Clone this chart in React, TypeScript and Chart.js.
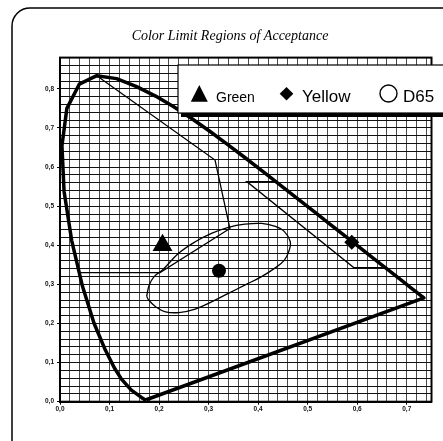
import React, { useEffect, useRef } from 'react';
import { Chart, registerables } from 'chart.js';

Chart.register(...registerables);

const TITLE = 'Color Limit Regions of Acceptance';

// CIE 1931 spectral locus (thick outline)
const locusX = [0.1741, 0.1714, 0.1644, 0.1440, 0.1241, 0.1096, 0.0913, 0.0687, 0.0454, 0.0235, 0.0082, 0.0039, 0.0139, 0.0389, 0.0743, 0.1142, 0.1547, 0.1929, 0.2296, 0.2658, 0.3016, 0.3373, 0.3731, 0.4087, 0.4441, 0.4788, 0.5125, 0.5448, 0.5752, 0.6029, 0.6270, 0.6482, 0.6658, 0.6915, 0.7079, 0.7190, 0.7260, 0.7347, 0.1741];
const locusY = [0.0050, 0.0051, 0.0109, 0.0297, 0.0578, 0.0868, 0.1327, 0.2007, 0.2950, 0.4127, 0.5384, 0.6548, 0.7502, 0.8120, 0.8338, 0.8262, 0.8059, 0.7816, 0.7543, 0.7243, 0.6923, 0.6589, 0.6245, 0.5896, 0.5547, 0.5202, 0.4866, 0.4544, 0.4242, 0.3965, 0.3725, 0.3514, 0.3340, 0.3083, 0.2920, 0.2809, 0.2740, 0.2653, 0.0050];

// Green region boundary (thin line)
const greenX = [0.0743, 0.313, 0.343, 0.202, 0.040];
const greenY = [0.8338, 0.618, 0.443, 0.330, 0.330];

// Yellow region boundary (thin line)
const yellowX = [0.435, 0.377, 0.593, 0.656];
const yellowY = [0.563, 0.563, 0.343, 0.343];

// White (D65) acceptance region (closed curve)
const whiteX = [0.175, 0.180, 0.190, 0.207, 0.240, 0.273, 0.307, 0.340, 0.373, 0.407, 0.433, 0.453, 0.465, 0.463, 0.453, 0.433, 0.407, 0.373, 0.340, 0.307, 0.273, 0.240, 0.213, 0.193, 0.179, 0.175];
const whiteY = [0.270, 0.298, 0.320, 0.337, 0.380, 0.409, 0.431, 0.446, 0.454, 0.456, 0.449, 0.435, 0.409, 0.388, 0.362, 0.341, 0.320, 0.298, 0.277, 0.256, 0.237, 0.228, 0.230, 0.243, 0.260, 0.270];

// Markers
const markerNames = ['Green', 'Yellow', 'D65'];
const markerX = [0.207, 0.589, 0.321];
const markerY = [0.400, 0.408, 0.335];

// Axes
const xMin = 0;
const xMax = 0.75;
const yMin = 0;
const yMax = 0.88;
const gridStep = 0.02;
const labelStep = 0.1;

const FONT_SANS = '"Liberation Sans", Arial, sans-serif';
const FONT_SERIF = '"Liberation Serif", "Times New Roman", serif';

const pts = (xs: number[], ys: number[]) => xs.map((x, i) => ({ x, y: ys[i] }));

const isMajor = (v: number) => Math.round(v * 100) % Math.round(labelStep * 100) === 0;
const fmt = (v: number) => (isMajor(v) ? v.toFixed(1).replace('.', ',') : '');

const decorPlugin = {
  id: 'decor',
  beforeDraw(chart: any) {
    const ctx = chart.ctx;
    ctx.save();
    ctx.fillStyle = '#fff';
    ctx.fillRect(0, 0, chart.width, chart.height);
    ctx.beginPath();
    ctx.roundRect(12, 8, 460, 460, 18);
    ctx.lineWidth = 1.5;
    ctx.strokeStyle = '#000';
    ctx.stroke();
    ctx.font = `italic 14px ${FONT_SERIF}`;
    ctx.textAlign = 'center';
    ctx.textBaseline = 'alphabetic';
    ctx.fillStyle = '#000';
    ctx.fillText(TITLE, 230, 40);
    ctx.restore();
  },
  afterDatasetsDraw(chart: any) {
    const { ctx, chartArea: a } = chart;
    ctx.save();
    ctx.lineWidth = 2;
    ctx.strokeStyle = '#000';
    ctx.strokeRect(a.left, a.top, a.right - a.left, a.bottom - a.top);
    ctx.restore();
  },
  afterDraw(chart: any) {
    const ctx = chart.ctx;
    ctx.save();
    // legend box with shadow
    ctx.fillStyle = '#000';
    ctx.fillRect(181, 113, 280, 4);
    ctx.fillStyle = '#fff';
    ctx.fillRect(178, 65, 280, 48);
    ctx.lineWidth = 1.2;
    ctx.strokeStyle = '#000';
    ctx.strokeRect(178, 65, 280, 48);

    ctx.fillStyle = '#000';
    // triangle
    ctx.beginPath();
    ctx.moveTo(199.3, 85);
    ctx.lineTo(207.8, 101.7);
    ctx.lineTo(190.8, 101.7);
    ctx.closePath();
    ctx.fill();
    ctx.textBaseline = 'alphabetic';
    ctx.textAlign = 'left';
    ctx.font = `14px ${FONT_SANS}`;
    ctx.fillText(markerNames[0], 216, 101.7);
    // diamond
    ctx.beginPath();
    ctx.moveTo(286.5, 87);
    ctx.lineTo(293.3, 93.8);
    ctx.lineTo(286.5, 100.6);
    ctx.lineTo(279.7, 93.8);
    ctx.closePath();
    ctx.fill();
    ctx.font = `17px ${FONT_SANS}`;
    ctx.fillText(markerNames[1], 302, 101.7);
    // open circle
    ctx.beginPath();
    ctx.arc(388.5, 93.5, 8.5, 0, Math.PI * 2);
    ctx.lineWidth = 1.4;
    ctx.stroke();
    ctx.fillText(markerNames[2], 403, 101.7);
    ctx.restore();
  },
};

const gridColorX = (c: any) => '#4a4a4a';
const gridColorY = (c: any) => '#111';

export default function App() {
  const ref = useRef<HTMLCanvasElement | null>(null);

  useEffect(() => {
    if (!ref.current) return;
    const chart = new Chart(ref.current, {
      type: 'scatter',
      data: {
        datasets: [
          {
            label: 'locus',
            data: pts(locusX, locusY),
            showLine: true,
            borderColor: '#000',
            borderWidth: 3.5,
            pointRadius: 0,
            fill: false,
            borderJoinStyle: 'round',
          } as any,
          {
            label: 'green region',
            data: pts(greenX, greenY),
            showLine: true,
            borderColor: '#000',
            borderWidth: 1.3,
            pointRadius: 0,
          },
          {
            label: 'yellow region',
            data: pts(yellowX, yellowY),
            showLine: true,
            borderColor: '#000',
            borderWidth: 1.3,
            pointRadius: 0,
          },
          {
            label: 'white region',
            data: pts(whiteX, whiteY),
            showLine: true,
            borderColor: '#000',
            borderWidth: 1.3,
            pointRadius: 0,
            tension: 0.4,
          },
          {
            label: markerNames[0],
            data: [{ x: markerX[0], y: markerY[0] }],
            pointStyle: 'triangle',
            pointRadius: 11.5,
            backgroundColor: '#000',
            borderColor: '#000',
            borderWidth: 0,
          },
          {
            label: markerNames[1],
            data: [{ x: markerX[1], y: markerY[1] }],
            pointStyle: 'rectRot',
            pointRadius: 7.5,
            backgroundColor: '#000',
            borderColor: '#000',
            borderWidth: 0,
          },
          {
            label: markerNames[2],
            data: [{ x: markerX[2], y: markerY[2] }],
            pointStyle: 'circle',
            pointRadius: 7,
            backgroundColor: '#000',
            borderColor: '#000',
            borderWidth: 0,
          },
        ],
      },
      options: {
        responsive: false,
        animation: false,
        devicePixelRatio: 1,
        events: [],
        layout: { padding: { left: 20, top: 57.6, right: 8, bottom: 19.3 } },
        plugins: {
          legend: { display: false },
          tooltip: { enabled: false },
          title: { display: false },
        },
        scales: {
          x: {
            type: 'linear',
            min: xMin,
            max: xMax,
            afterFit: (s: any) => {
              s.height = 20;
            },
            ticks: {
              stepSize: gridStep,
              includeBounds: false,
              autoSkip: false,
              maxRotation: 0,
              minRotation: 0,
              padding: 1,
              color: '#111',
              font: { family: FONT_SANS, size: 6.5, weight: 'bold' },
              callback: (v: any) => fmt(Number(v)),
            },
            grid: {
              color: gridColorX,
              lineWidth: 1,
              tickLength: 3,
              tickColor: (c: any) => (c.tick && isMajor(c.tick.value) ? '#000' : 'rgba(0,0,0,0)'),
            },
            border: { display: true, color: '#000', width: 2 },
          },
          y: {
            type: 'linear',
            min: yMin,
            max: yMax,
            afterFit: (s: any) => {
              s.width = 40;
            },
            ticks: {
              stepSize: gridStep,
              autoSkip: false,
              padding: 3,
              color: '#111',
              font: { family: FONT_SANS, size: 6.5, weight: 'bold' },
              callback: (v: any) => fmt(Number(v)),
            },
            grid: {
              color: gridColorY,
              lineWidth: 1,
              tickLength: 3,
              tickColor: (c: any) => (c.tick && isMajor(c.tick.value) ? '#000' : 'rgba(0,0,0,0)'),
            },
            border: { display: true, color: '#000', width: 2 },
          },
        },
      } as any,
      plugins: [decorPlugin],
    });
    return () => chart.destroy();
  }, []);

  return (
    <div style={{ position: 'fixed', left: 0, top: 0, width: 443, height: 441, background: '#fff' }}>
      <canvas ref={ref} width={443} height={441} style={{ display: 'block', width: 443, height: 441 }} />
    </div>
  );
}
